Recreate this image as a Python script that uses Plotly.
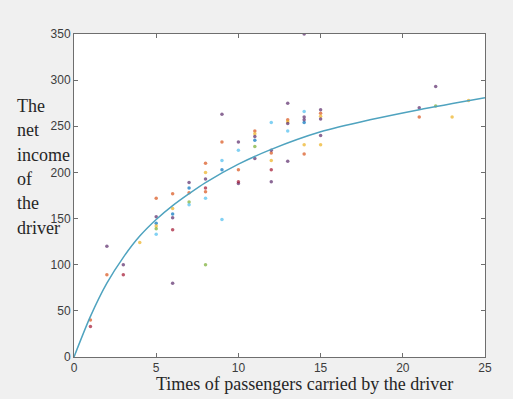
import plotly.graph_objects as go

# ---- data ----
blue_x = [5, 6, 7, 9, 11, 14]
blue_y = [145, 155, 183, 203, 235, 254]

orange_x = [1, 2, 5, 6, 7, 8, 8, 9, 10, 11, 12, 13, 14, 15, 21]
orange_y = [40, 89, 172, 177, 178, 210, 179, 233, 203, 245, 221, 257, 220, 264, 260]

yellow_x = [4, 5, 6, 8, 11, 12, 13, 14, 15, 15, 23, 24]
yellow_y = [124, 142, 161, 200, 242, 213, 255, 230, 261, 230, 260, 278]

purple_x = [2, 3, 5, 6, 6, 7, 8, 9, 10, 10, 11, 11, 12, 12, 13, 13, 13, 14, 14, 14, 15, 15, 15, 21, 22]
purple_y = [120, 100, 152, 151, 80, 189, 193, 263, 233, 188, 239, 215, 224, 190, 275, 253, 212, 350, 260, 257, 268, 258, 240, 270, 293]

green_x = [5, 7, 8, 11, 22]
green_y = [139, 168, 100, 228, 272]

cyan_x = [5, 7, 8, 9, 9, 10, 12, 13, 14]
cyan_y = [133, 165, 172, 213, 149, 224, 254, 245, 266]

darkred_x = [1, 3, 6, 8, 10, 12]
darkred_y = [33, 89, 138, 183, 190, 203]

curve_x = [0, 1, 2, 3, 4, 5, 6, 7, 8, 10, 12, 15, 18, 21, 25]
curve_y = [0, 44, 80, 108, 131, 149, 164, 177, 189, 209, 225, 244, 257, 268, 281]

x_ticks = [0, 5, 10, 15, 20, 25]
y_ticks = [0, 50, 100, 150, 200, 250, 300, 350]

x_title = "Times of passengers carried by the driver"
y_title_lines = ["The", "net", "income", "of", "the", "driver"]

# ---- figure ----
fig = go.Figure()
series = [
    (blue_x, blue_y, "#0072BD"),
    (orange_x, orange_y, "#D95319"),
    (yellow_x, yellow_y, "#EDB120"),
    (purple_x, purple_y, "#5a2a6a"),
    (green_x, green_y, "#77AC30"),
    (cyan_x, cyan_y, "#4DBEEE"),
    (darkred_x, darkred_y, "#A2142F"),
]
for xs, ys, c in series:
    fig.add_trace(go.Scatter(x=xs, y=ys, mode="markers",
                             marker=dict(size=3.5, color=c, opacity=0.7),
                             showlegend=False, hoverinfo="x+y"))

fig.add_trace(go.Scatter(x=curve_x, y=curve_y, mode="lines",
                         line=dict(color="#4fa3bf", width=1.5, shape="spline", smoothing=0.8),
                         showlegend=False))

axis_common = dict(
    showgrid=False, zeroline=False, showline=True, linecolor="#6e6e6e",
    linewidth=1, mirror="ticks", ticks="inside", ticklen=4,
    tickcolor="#6e6e6e", tickfont=dict(family="Liberation Sans", size=12, color="#3c3c3c"),
)
fig.update_xaxes(range=[0, 25], tickvals=x_ticks, **axis_common)
fig.update_yaxes(range=[0, 350], tickvals=y_ticks, **axis_common)

annotations = [dict(text=x_title, xref="paper", yref="paper",
                    x=(304 - 74) / 411, y=-(396 - 357) / 323, xanchor="center",
                    yanchor="bottom", showarrow=False,
                    font=dict(family="Liberation Serif", size=18, color="#262626"))]
for i, t in enumerate(y_title_lines):
    bottom = 118 + i * 24.3
    annotations.append(dict(text=t, xref="paper", yref="paper",
                            x=(15 - 74) / 411, y=(357 - bottom) / 323,
                            xanchor="left", yanchor="bottom", showarrow=False,
                            font=dict(family="Liberation Serif", size=18, color="#262626")))

fig.update_layout(
    width=513, height=399,
    margin=dict(l=74, r=28, t=34, b=42),
    paper_bgcolor="#f0f0f0", plot_bgcolor="#ffffff",
    annotations=annotations,
)

fig.write_html("out.html", config={"displayModeBar": False},
               post_script="document.body.style.margin='0';document.body.style.background='#f0f0f0';")
